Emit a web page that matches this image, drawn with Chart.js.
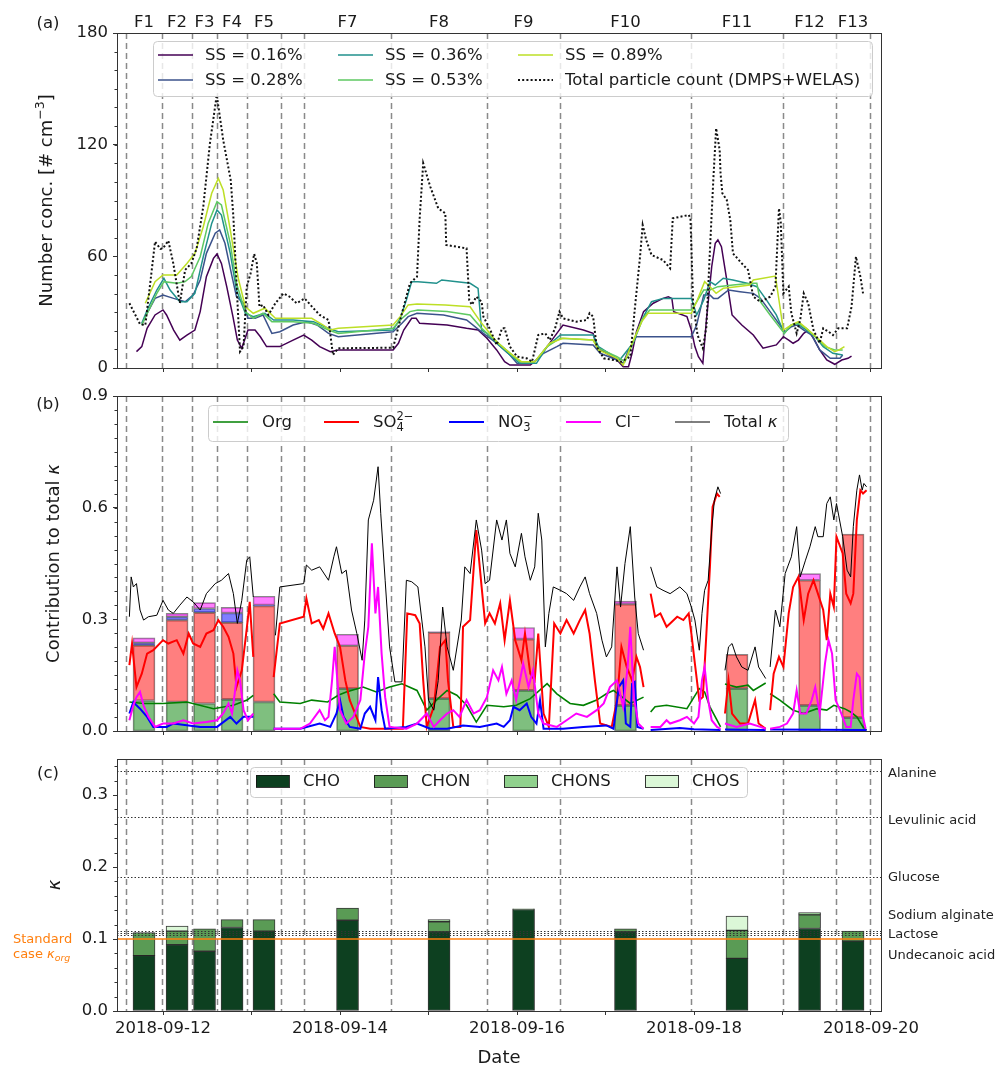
<!DOCTYPE html>
<html>
<head>
<meta charset="utf-8">
<script src="https://cdn.jsdelivr.net/npm/chart.js@4.4.0/dist/chart.umd.min.js"></script>
<style>
html, body { margin: 0; padding: 0; background: #fff; }
#wrap { position: relative; width: 997px; height: 1067px; }
#wrap canvas { position: absolute; left: 0; top: 0; }
</style>
</head>
<body>
<div id="wrap">
<canvas id="ca" width="997" height="1067"></canvas>
<canvas id="cb" width="997" height="1067"></canvas>
<canvas id="cc" width="997" height="1067"></canvas>
</div>
<script>
// time in days since 2018-09-12 00:00 UTC
var xLimits = [-0.52, 8.113];
var dayTicks = [0, 1, 2, 3, 4, 5, 6, 7, 8];
var flightEdges = [-0.418, -0.011, 0.328, 0.610, 0.949, 1.333, 1.593, 2.576, 3.661, 4.486, 5.966, 7.006, 7.605, 7.989];
var flightNames = ['F1', 'F2', 'F3', 'F4', 'F5', '', 'F7', 'F8', 'F9', 'F10', 'F11', 'F12', 'F13'];
var barTimes = [-0.215, 0.159, 0.469, 0.78, 1.141, 2.085, 3.119, 4.074, 5.226, 6.486, 7.306, 7.797];

// (a) number concentrations [# cm-3]
var totalCount = [[-0.38,34.8],[-0.26,23.6],[-0.2,23],[-0.09,67.9],[-0.03,64],[0.0,64.3],[0.06,68.4],[0.116,56.2],[0.19,34.9],[0.25,52.7],[0.32,56.2],[0.38,64.3],[0.455,86.7],[0.53,120.7],[0.607,146.7],[0.68,122.5],[0.765,101],[0.795,81.3],[0.84,36.5],[0.87,8.8],[0.91,11.5],[0.946,43.7],[0.99,50.9],[1.03,61.3],[1.06,56.2],[1.09,32.9],[1.13,33.9],[1.19,28.5],[1.27,34.8],[1.36,40.1],[1.43,38.3],[1.51,34.8],[1.60,37.4],[1.70,32.1],[1.77,28.5],[1.87,25.8],[1.92,7.0],[1.98,10.6],[2.6,10.9],[2.68,25.8],[2.79,45.5],[2.87,49.1],[2.90,80.4],[2.94,110],[3.02,97.4],[3.11,85.8],[3.19,83.1],[3.20,66.1],[3.43,64.3],[3.46,36.5],[3.49,33.9],[3.54,38.3],[3.60,35.6],[3.62,27.6],[3.69,21.3],[3.77,12.4],[3.83,21.3],[3.86,21.3],[3.92,11.5],[4.0,6.1],[4.11,5.2],[4.17,3.4],[4.24,17.7],[4.32,18.6],[4.37,15.0],[4.43,21.3],[4.48,30.3],[4.52,26.7],[4.67,24.9],[4.79,25.8],[4.82,29.4],[4.86,27.6],[4.90,11.5],[4.98,5.2],[5.09,4.3],[5.18,3.4],[5.28,6.1],[5.33,31.2],[5.39,59.8],[5.42,76.8],[5.46,68.8],[5.52,60.7],[5.65,58.0],[5.73,53.6],[5.76,80.4],[5.94,82.2],[5.96,80.4],[5.99,34.8],[6.04,17.7],[6.10,10.6],[6.14,22.2],[6.18,63.4],[6.22,102.8],[6.25,128.8],[6.29,117.1],[6.30,104.6],[6.32,93.9],[6.37,90.3],[6.41,79.5],[6.44,61.6],[6.54,56.2],[6.61,52.7],[6.67,38.3],[6.75,35.6],[6.86,38.3],[6.92,43.7],[6.96,85.8],[6.98,78.6],[7.01,40.1],[7.07,43.7],[7.10,29.4],[7.16,18.6],[7.20,25.8],[7.24,40.1],[7.29,34.8],[7.35,20.4],[7.42,13.3],[7.46,21.3],[7.52,19.5],[7.57,17.7],[7.63,21.3],[7.73,21.3],[7.78,32.9],[7.83,59.8],[7.88,49.1],[7.91,40.1]];
var ss016 = [[-0.30,8.8],[-0.24,11.5],[-0.18,21.3],[-0.09,28.5],[0.0,31.2],[0.04,28.5],[0.12,20.4],[0.19,15.0],[0.27,17.7],[0.36,20.4],[0.42,30.3],[0.49,49.1],[0.57,58.9],[0.61,61.3],[0.66,56.2],[0.72,43.7],[0.79,27.6],[0.84,15.0],[0.89,10.6],[0.96,20.4],[1.04,20.4],[1.10,16.8],[1.17,11.5],[1.32,11.5],[1.47,15.0],[1.59,17.7],[1.68,15.0],[1.77,11.5],[1.89,8.8],[1.98,9.7],[2.60,9.7],[2.66,13.3],[2.72,20.4],[2.81,26.7],[2.86,26.7],[2.90,24.0],[3.21,23.1],[3.43,21.3],[3.56,20.4],[3.66,16.0],[3.77,9.7],[3.86,3.4],[3.92,1.6],[4.15,1.6],[4.22,4.3],[4.34,11.5],[4.45,18.6],[4.52,23.1],[4.75,20.4],[4.86,18.6],[4.90,11.5],[5.01,7.9],[5.13,4.3],[5.20,0.7],[5.26,0.7],[5.30,7.9],[5.35,19.5],[5.43,30.3],[5.54,34.8],[5.65,37.4],[5.71,38.3],[5.75,37.4],[5.77,30.3],[5.92,27.6],[5.97,20.4],[6.01,11.5],[6.05,6.1],[6.10,2.5],[6.14,25.8],[6.20,54.4],[6.24,67.0],[6.27,68.8],[6.31,65.2],[6.37,47.3],[6.43,28.5],[6.54,23.1],[6.67,17.7],[6.78,10.6],[6.93,12.4],[7.01,16.8],[7.07,15.0],[7.12,13.3],[7.18,15.0],[7.24,18.6],[7.29,20.4],[7.35,16.0],[7.42,9.7],[7.50,4.3],[7.59,2.0],[7.67,4.3],[7.74,5.2],[7.78,6.4]];
var ss028 = [[-0.24,23.1],[-0.18,29.4],[-0.09,37.4],[0.0,39.2],[0.12,37.4],[0.25,35.6],[0.34,39.2],[0.42,47.3],[0.49,61.6],[0.59,72.4],[0.64,74.2],[0.70,67.0],[0.78,49.1],[0.83,38.3],[0.91,34.8],[0.96,26.7],[1.04,26.7],[1.13,28.5],[1.23,18.6],[1.32,19.5],[1.47,23.1],[1.62,24.9],[1.74,23.1],[1.87,18.6],[1.98,16.8],[2.60,19.5],[2.70,24.0],[2.77,27.6],[2.87,29.4],[3.17,28.5],[3.43,25.8],[3.62,18.6],[3.77,13.3],[3.92,7.0],[4.0,2.5],[4.18,2.5],[4.30,7.9],[4.45,11.5],[4.52,13.3],[4.86,12.4],[4.94,7.9],[5.13,4.3],[5.20,2.5],[5.26,9.7],[5.35,16.8],[5.97,16.8],[6.03,23.1],[6.11,39.2],[6.18,39.2],[6.22,37.4],[6.27,37.4],[6.39,41.9],[6.52,41.0],[6.67,40.1],[6.75,37.4],[6.86,30.3],[6.97,23.1],[7.03,19.5],[7.10,22.2],[7.16,23.1],[7.24,20.4],[7.33,17.7],[7.42,9.7],[7.54,5.2],[7.65,5.2],[7.68,7.0]];
var ss036 = [[-0.24,24.0],[-0.17,32.1],[-0.07,41.9],[0.01,48.2],[0.08,41.9],[0.19,35.6],[0.27,35.6],[0.36,40.1],[0.455,59.8],[0.55,77.7],[0.61,84.9],[0.66,82.2],[0.76,61.6],[0.83,41.9],[0.93,29.4],[1.02,27.6],[1.15,29.4],[1.25,25.8],[1.47,25.8],[1.70,24.9],[1.87,21.3],[1.98,19.5],[2.60,20.4],[2.68,26.7],[2.75,36.5],[2.81,46.4],[2.88,46.4],[3.09,45.5],[3.15,47.3],[3.47,45.5],[3.56,42.8],[3.60,20.4],[3.66,18.6],[3.77,13.3],[3.92,7.0],[4.03,2.5],[4.22,2.5],[4.34,11.5],[4.49,17.7],[4.86,17.7],[4.92,11.5],[5.01,8.8],[5.16,4.3],[5.31,13.3],[5.43,27.6],[5.52,35.6],[5.65,37.4],[5.97,37.4],[6.03,28.5],[6.11,36.5],[6.18,46.4],[6.24,44.6],[6.33,48.2],[6.44,47.3],[6.60,45.5],[6.71,43.7],[6.82,36.5],[6.93,28.5],[7.02,18.6],[7.10,23.1],[7.16,24.0],[7.27,20.4],[7.37,16.8],[7.46,11.5],[7.57,7.9],[7.68,7.0]];
var ss053 = [[-0.24,23.1],[-0.17,30.3],[-0.07,40.1],[0.01,46.4],[0.155,45.5],[0.25,46.4],[0.32,49.1],[0.42,59.8],[0.51,77.7],[0.61,89.4],[0.66,87.6],[0.76,67.0],[0.83,45.5],[0.93,30.3],[1.02,26.7],[1.13,29.4],[1.23,24.9],[1.47,24.9],[1.70,24.0],[1.87,20.4],[1.98,18.6],[2.60,21.3],[2.70,26.7],[2.79,30.3],[2.88,31.2],[3.21,30.3],[3.47,28.5],[3.60,21.3],[3.77,14.1],[3.92,8.0],[4.03,3.4],[4.20,3.4],[4.34,11.5],[4.49,16.0],[4.86,15.0],[4.92,10.6],[5.13,6.1],[5.22,3.4],[5.30,12.4],[5.41,25.8],[5.50,31.2],[5.97,31.2],[6.03,35.6],[6.11,41.9],[6.18,41.9],[6.27,43.7],[6.44,44.6],[6.65,45.5],[6.71,45.5],[6.75,35.6],[6.86,28.5],[7.02,18.6],[7.10,23.1],[7.18,24.0],[7.27,21.3],[7.37,16.8],[7.48,11.5],[7.59,9.7],[7.68,9.7]];
var ss089 = [[-0.20,34.8],[-0.09,46.4],[0.0,50.0],[0.155,50.0],[0.27,56.2],[0.36,61.6],[0.455,75.9],[0.55,93.9],[0.625,101.9],[0.68,95.6],[0.76,74.2],[0.85,48.2],[0.93,32.9],[1.02,29.4],[1.15,32.1],[1.27,26.7],[1.47,26.7],[1.68,26.7],[1.81,23.1],[1.89,20.4],[1.98,21.3],[2.60,23.1],[2.68,27.6],[2.77,33.9],[2.87,34.4],[3.19,33.9],[3.47,32.9],[3.60,24.0],[3.77,14.1],[3.92,8.0],[4.05,3.4],[4.20,3.4],[4.37,13.3],[4.52,16.0],[4.86,15.0],[4.92,9.7],[5.13,5.2],[5.20,1.6],[5.30,13.3],[5.41,24.9],[5.48,29.4],[5.97,29.4],[6.03,35.6],[6.12,46.4],[6.18,43.7],[6.25,40.1],[6.33,42.8],[6.48,43.7],[6.63,44.6],[6.67,47.3],[6.92,49.4],[7.01,20.4],[7.10,23.1],[7.18,24.9],[7.27,21.3],[7.38,16.8],[7.50,11.5],[7.59,8.8],[7.64,9.7],[7.70,11.5]];

// (b) contributions to total kappa (null = gap)
var totalKappa = [[-0.38,0.307],[-0.36,0.414],[-0.335,0.387],[-0.30,0.396],[-0.26,0.325],[-0.22,0.298],[-0.165,0.307],[-0.07,0.311],[0.0,0.351],[0.06,0.325],[0.116,0.316],[0.19,0.338],[0.27,0.36],[0.34,0.347],[0.42,0.325],[0.49,0.369],[0.59,0.396],[0.66,0.405],[0.74,0.423],[0.795,0.369],[0.84,0.289],[0.89,0.351],[0.946,0.459],[0.98,0.468],[1.02,0.36],[1.1,null],[1.27,0.257],[1.32,0.387],[1.59,0.396],[1.62,0.446],[1.68,0.432],[1.77,0.441],[1.87,0.405],[1.93,0.468],[1.96,0.495],[2.02,0.423],[2.07,0.432],[2.13,0.325],[2.19,0.262],[2.25,0.19],[2.28,0.298],[2.32,0.567],[2.38,0.62],[2.43,0.71],[2.46,0.585],[2.51,0.405],[2.56,0.226],[2.62,0.132],[2.70,0.132],[2.75,0.405],[2.81,0.401],[2.88,0.387],[2.96,0.226],[3.0,0.083],[3.06,0.056],[3.11,0.136],[3.16,0.333],[3.21,0.226],[3.28,0.163],[3.37,0.298],[3.41,0.441],[3.47,0.423],[3.54,0.567],[3.60,0.486],[3.64,0.396],[3.69,0.405],[3.77,0.567],[3.83,0.513],[3.88,0.567],[3.92,0.477],[3.98,0.441],[4.05,0.531],[4.09,0.468],[4.15,0.405],[4.20,0.441],[4.24,0.585],[4.28,0.513],[4.32,0.226],[4.36,0.316],[4.41,0.387],[4.49,0.378],[4.56,0.369],[4.64,0.351],[4.71,0.387],[4.77,0.414],[4.82,0.369],[4.90,0.316],[4.96,0.244],[5.01,0.199],[5.07,0.226],[5.13,0.441],[5.17,0.333],[5.22,0.45],[5.28,0.549],[5.33,0.36],[5.37,0.262],[5.43,0.217],[5.47,null],[5.51,0.441],[5.58,0.387],[5.65,0.378],[5.73,0.369],[5.84,0.387],[5.92,0.369],[5.97,0.333],[6.01,0.298],[6.06,0.217],[6.09,0.316],[6.12,0.378],[6.16,0.405],[6.20,0.54],[6.23,0.62],[6.27,0.656],[6.30,0.638],[6.32,null],[6.35,0.163],[6.39,0.226],[6.43,0.235],[6.48,0.199],[6.54,0.172],[6.61,0.163],[6.69,0.226],[6.73,0.172],[6.81,0.141],[6.83,null],[6.86,0.172],[6.92,0.325],[6.97,0.28],[7.03,0.423],[7.10,0.468],[7.16,0.549],[7.20,0.414],[7.26,0.459],[7.31,0.495],[7.37,0.549],[7.40,0.522],[7.46,0.522],[7.50,0.611],[7.54,0.629],[7.58,0.567],[7.61,0.611],[7.68,0.522],[7.73,0.432],[7.77,0.414],[7.80,0.549],[7.84,0.647],[7.87,0.688],[7.90,0.647],[7.92,0.665],[7.95,0.656]];
var so4 = [[-0.38,0.177],[-0.35,0.235],[-0.335,0.199],[-0.30,0.118],[-0.24,0.154],[-0.18,0.208],[-0.11,0.217],[0.0,0.244],[0.06,0.235],[0.155,0.244],[0.23,0.208],[0.29,0.262],[0.34,0.235],[0.42,0.226],[0.49,0.262],[0.57,0.271],[0.625,0.298],[0.68,0.28],[0.74,0.253],[0.795,0.208],[0.83,0.118],[0.89,0.163],[0.94,0.262],[0.98,0.347],[1.02,0.199],[1.1,null],[1.25,0.145],[1.32,0.289],[1.59,0.307],[1.62,0.356],[1.68,0.289],[1.76,0.298],[1.81,0.275],[1.87,0.316],[1.94,0.262],[2.0,0.226],[2.06,0.136],[2.11,0.083],[2.17,0.047],[2.23,0.011],[2.34,0.006],[2.71,0.006],[2.76,0.316],[2.85,0.311],[2.90,0.289],[2.94,0.136],[2.98,0.011],[3.06,0.065],[3.13,0.226],[3.19,0.244],[3.22,0.136],[3.28,0.011],[3.36,0.011],[3.39,0.28],[3.47,0.298],[3.54,0.54],[3.60,0.387],[3.64,0.289],[3.69,0.316],[3.75,0.289],[3.81,0.343],[3.86,0.244],[3.92,0.351],[3.98,0.244],[4.05,0.19],[4.09,0.262],[4.15,0.154],[4.20,0.136],[4.24,0.262],[4.30,0.047],[4.36,0.011],[4.42,0.289],[4.49,0.262],[4.56,0.298],[4.64,0.262],[4.71,0.298],[4.77,0.325],[4.82,0.262],[4.88,0.136],[4.94,0.02],[5.07,0.011],[5.13,0.083],[5.18,0.226],[5.24,0.172],[5.30,0.136],[5.35,0.199],[5.39,0.172],[5.43,0.118],[5.47,null],[5.51,0.369],[5.56,0.307],[5.62,0.316],[5.69,0.28],[5.73,0.289],[5.81,0.307],[5.88,0.298],[5.94,0.316],[5.97,0.262],[6.01,0.181],[6.06,0.083],[6.10,0.091],[6.14,0.262],[6.18,0.441],[6.21,0.602],[6.26,0.638],[6.29,0.629],[6.32,null],[6.35,0.047],[6.39,0.136],[6.43,0.047],[6.52,0.02],[6.61,0.02],[6.69,0.083],[6.73,0.02],[6.81,0.006],[6.83,null],[6.86,0.056],[6.90,0.154],[6.96,0.199],[7.01,0.172],[7.07,0.316],[7.12,0.387],[7.18,0.414],[7.24,0.298],[7.29,0.369],[7.35,0.405],[7.40,0.369],[7.46,0.325],[7.50,0.244],[7.54,0.369],[7.58,0.333],[7.61,0.522],[7.68,0.477],[7.72,0.369],[7.77,0.343],[7.80,0.369],[7.84,0.567],[7.88,0.647],[7.91,0.638],[7.95,0.647]];
var org = [[-0.38,0.078],[-0.22,0.074],[0.0,0.074],[0.27,0.078],[0.57,0.06],[0.795,0.069],[0.95,0.083],[1.02,0.096],[1.1,null],[1.25,0.1],[1.32,0.078],[1.55,0.074],[1.68,0.083],[1.86,0.078],[1.98,0.096],[2.07,0.105],[2.26,0.118],[2.41,0.105],[2.56,0.118],[2.70,0.127],[2.87,0.109],[2.98,0.056],[3.09,0.083],[3.21,0.109],[3.32,0.096],[3.43,0.069],[3.54,0.024],[3.66,0.069],[3.85,0.065],[3.99,0.069],[4.15,0.087],[4.34,0.127],[4.45,0.1],[4.60,0.074],[4.75,0.069],[4.90,0.083],[5.01,0.1],[5.09,0.109],[5.28,0.074],[5.43,0.091],[5.47,null],[5.51,0.051],[5.56,0.065],[5.69,0.069],[5.92,0.06],[6.0,0.091],[6.06,0.114],[6.12,0.105],[6.18,0.065],[6.26,0.029],[6.30,0.011],[6.32,null],[6.35,0.126],[6.48,0.118],[6.61,0.123],[6.67,0.109],[6.81,0.129],[6.83,null],[6.86,0.1],[6.97,0.083],[7.12,0.056],[7.24,0.047],[7.39,0.06],[7.50,0.056],[7.58,0.069],[7.70,0.06],[7.77,0.051],[7.84,0.038],[7.91,0.011],[7.95,0.002]];
var no3 = [[-0.38,0.047],[-0.335,0.078],[-0.30,0.069],[-0.26,0.06],[-0.18,0.038],[-0.11,0.011],[0.04,0.011],[0.116,0.02],[0.42,0.011],[0.61,0.011],[0.76,0.038],[0.83,0.02],[0.91,0.038],[1.02,0.038],[1.1,null],[1.25,0.006],[1.55,0.006],[1.77,0.02],[1.89,0.011],[1.96,0.047],[2.0,0.083],[2.04,0.038],[2.11,0.011],[2.23,0.006],[2.28,0.047],[2.34,0.065],[2.40,0.029],[2.43,0.145],[2.47,0.056],[2.51,0.006],[2.75,0.011],[2.87,0.02],[3.02,0.006],[3.21,0.006],[3.39,0.015],[3.58,0.011],[3.77,0.02],[3.85,0.011],[3.92,0.029],[3.96,0.065],[4.03,0.056],[4.11,0.074],[4.16,0.038],[4.22,0.02],[4.26,0.083],[4.30,0.006],[4.52,0.006],[4.75,0.011],[5.01,0.015],[5.09,0.006],[5.15,0.118],[5.20,0.136],[5.23,0.02],[5.28,0.011],[5.30,0.127],[5.33,0.132],[5.36,0.011],[5.43,0.006],[5.47,null],[5.51,0.003],[5.84,0.008],[6.0,0.005],[6.30,0.003],[6.32,null],[6.35,0.004],[6.81,0.003],[6.83,null],[6.86,0.004],[7.95,0.003]];
var cl = [[-0.38,0.029],[-0.335,0.069],[-0.30,0.091],[-0.26,0.105],[-0.22,0.069],[-0.165,0.038],[-0.09,0.011],[0.0,0.02],[0.116,0.02],[0.23,0.029],[0.34,0.02],[0.49,0.024],[0.61,0.029],[0.68,0.047],[0.74,0.074],[0.78,0.047],[0.81,0.1],[0.84,0.163],[0.87,0.136],[0.91,0.056],[0.96,0.029],[1.02,0.047],[1.1,null],[1.25,0.006],[1.55,0.006],[1.66,0.02],[1.77,0.056],[1.83,0.029],[1.87,0.038],[1.91,0.136],[1.94,0.226],[1.97,0.136],[2.0,0.056],[2.07,0.02],[2.15,0.038],[2.23,0.083],[2.28,0.208],[2.32,0.28],[2.36,0.504],[2.40,0.316],[2.43,0.387],[2.47,0.208],[2.51,0.091],[2.56,0.011],[2.75,0.006],[2.87,0.02],[2.98,0.047],[3.06,0.011],[3.13,0.029],[3.21,0.047],[3.28,0.056],[3.35,0.038],[3.43,0.083],[3.51,0.047],[3.58,0.056],[3.66,0.091],[3.73,0.163],[3.79,0.136],[3.83,0.172],[3.88,0.1],[3.94,0.136],[3.99,0.083],[4.07,0.181],[4.13,0.118],[4.18,0.163],[4.24,0.047],[4.30,0.02],[4.45,0.011],[4.56,0.029],[4.67,0.047],[4.79,0.038],[4.90,0.056],[4.98,0.074],[5.05,0.118],[5.13,0.136],[5.20,0.065],[5.25,0.172],[5.28,0.28],[5.32,0.091],[5.37,0.02],[5.43,0.006],[5.47,null],[5.51,0.011],[5.62,0.011],[5.69,0.029],[5.73,0.02],[5.84,0.029],[5.92,0.038],[6.0,0.02],[6.05,0.038],[6.09,0.136],[6.12,0.172],[6.16,0.083],[6.20,0.029],[6.26,0.011],[6.30,0.006],[6.32,null],[6.35,0.02],[6.48,0.011],[6.63,0.02],[6.75,0.011],[6.81,0.006],[6.83,null],[6.86,0.006],[6.97,0.011],[7.05,0.02],[7.12,0.047],[7.16,0.109],[7.20,0.047],[7.27,0.047],[7.33,0.083],[7.37,0.118],[7.42,0.047],[7.48,0.181],[7.52,0.244],[7.56,0.208],[7.60,0.083],[7.65,0.056],[7.72,0.011],[7.77,0.011],[7.80,0.083],[7.84,0.154],[7.87,0.145],[7.90,0.047],[7.94,0.006]];

// (b) flight-mean contributions (one value per bar in barTimes)
var orgBar = [0.082, 0.078, 0.074, 0.085, 0.078, 0.114, 0.087, 0.109, 0.069, 0.114, 0.069, 0.036];
var so4Bar = [0.148, 0.220, 0.244, 0.206, 0.258, 0.115, 0.178, 0.138, 0.272, 0.092, 0.336, 0.493];
var no3Bar = [0.007, 0.009, 0.011, 0.026, 0.002, 0, 0, 0, 0, 0, 0, 0];
var clBar  = [0.013, 0.009, 0.016, 0.015, 0.024, 0.031, 0.002, 0.031, 0.008, 0, 0.018, 0];

// (c) organic kappa per compound class
var choK   = [0.077, 0.092, 0.083, 0.116, 0.111, 0.126, 0.110, 0.141, 0.110, 0.073, 0.1146, 0.097];
var chonK  = [0.032, 0.019, 0.031, 0.011, 0.016, 0.017, 0.014, 0.001, 0.004, 0.039, 0.019, 0.014];
var chonsK = [0, 0, 0, 0, 0, 0, 0.003, 0, 0, 0, 0.003, 0];
var chosK  = [0, 0.007, 0, 0, 0, 0, 0, 0, 0, 0.020, 0, 0];
var refNames = ['Alanine', 'Levulinic acid', 'Glucose', 'Sodium alginate', 'Lactose', 'Undecanoic acid'];
var refKappa = [0.333, 0.27, 0.186, 0.111, 0.108, 0.105];
var refLabelAt = [0.329, 0.265, 0.185, 0.132, 0.1055, 0.0775];
var standardKappa = 0.1;

var W = 997, H = 1067;
var FONT = '"DejaVu Sans"';
var TXT = '#1a1a1a';
var ssColors = ['#440154', '#3b528b', '#21918c', '#5ec962', '#bddf26'];
var ssLabels = ['SS = 0.16%', 'SS = 0.28%', 'SS = 0.36%', 'SS = 0.53%', 'SS = 0.89%'];
var greens = ['#0d4020', '#5a9b55', '#90d18d', '#dbf7d7'];

function pts(arr) { return arr.map(function(p) { return {x: p[0], y: p[1]}; }); }
function barPts(vals) { return barTimes.map(function(t, i) { return {x: t, y: vals[i] ? vals[i] : null}; }); }
function fnt(size, it) { return (it ? 'italic ' : '') + size + 'px ' + FONT; }

// text with sub/superscripts
function partWidth(ctx, p, size) {
  if (typeof p === 'string') { ctx.font = fnt(size); return ctx.measureText(p).width; }
  if (p.stack) { ctx.font = fnt(size * 0.7); return Math.max(ctx.measureText(p.stack[0]).width, ctx.measureText(p.stack[1]).width); }
  ctx.font = fnt(size * (p.s || 1), p.it); return ctx.measureText(p.t).width;
}
function richWidth(ctx, parts, size) {
  var w = 0; parts.forEach(function(p) { w += partWidth(ctx, p, size); }); return w;
}
function drawRich(ctx, x, y, parts, size) {
  var cx = x;
  parts.forEach(function(p) {
    var w = partWidth(ctx, p, size);
    if (typeof p === 'string') ctx.fillText(p, cx, y);
    else if (p.stack) { ctx.fillText(p.stack[0], cx, y - size * 0.36); ctx.fillText(p.stack[1], cx, y + size * 0.3); }
    else ctx.fillText(p.t, cx, y + (p.dy || 0) * size);
    cx += w;
  });
}
function drawRotated(ctx, cx, cy, parts, size) {
  ctx.save();
  ctx.translate(cx, cy); ctx.rotate(-Math.PI / 2);
  ctx.fillStyle = TXT; ctx.textAlign = 'left'; ctx.textBaseline = 'middle';
  var w = richWidth(ctx, parts, size);
  drawRich(ctx, -w / 2, 0, parts, size);
  ctx.restore();
}
function legendBox(ctx, x0, y0, x1, y1) {
  ctx.save();
  ctx.fillStyle = 'rgba(255,255,255,0.8)'; ctx.strokeStyle = '#cccccc'; ctx.lineWidth = 1;
  ctx.beginPath();
  if (ctx.roundRect) ctx.roundRect(x0 + 0.5, y0 + 0.5, x1 - x0, y1 - y0, 4); else ctx.rect(x0 + 0.5, y0 + 0.5, x1 - x0, y1 - y0);
  ctx.fill(); ctx.stroke();
  ctx.restore();
}
function legendLine(ctx, x, y, color, lw, dash) {
  ctx.save(); ctx.strokeStyle = color; ctx.lineWidth = lw; ctx.setLineDash(dash || []);
  ctx.beginPath(); ctx.moveTo(x, y); ctx.lineTo(x + 35, y); ctx.stroke(); ctx.restore();
}

function flightLines(chart) {
  var ctx = chart.ctx, a = chart.chartArea, xs = chart.scales.x;
  ctx.save();
  ctx.strokeStyle = 'rgba(125,125,125,0.9)'; ctx.lineWidth = 1.5; ctx.setLineDash([6, 4]);
  flightEdges.forEach(function(v) {
    var px = Math.round(xs.getPixelForValue(v)) + 0.5;
    ctx.beginPath(); ctx.moveTo(px, a.top); ctx.lineTo(px, a.bottom); ctx.stroke();
  });
  ctx.restore();
}
function frameAndMinor(chart, step, max) {
  var ctx = chart.ctx, a = chart.chartArea, ys = chart.scales.y;
  ctx.save();
  ctx.strokeStyle = '#333'; ctx.lineWidth = 1;
  ctx.strokeRect(a.left + 0.5, a.top + 0.5, a.right - a.left, a.bottom - a.top);
  for (var i = 0; i * step <= max + 1e-9; i++) {
    var py = Math.round(ys.getPixelForValue(i * step)) + 0.5;
    ctx.beginPath(); ctx.moveTo(a.left - 2.5, py); ctx.lineTo(a.left, py); ctx.stroke();
  }
  ctx.restore();
}
function panelLabel(ctx, txt, y) {
  ctx.save(); ctx.fillStyle = TXT; ctx.font = fnt(16.5); ctx.textAlign = 'center'; ctx.textBaseline = 'middle';
  ctx.fillText(txt, 48, y); ctx.restore();
}

function xAxis(showLabels, xh) {
  var day0 = Date.UTC(2018, 8, 12);
  return {
    type: 'linear', min: xLimits[0], max: xLimits[1], offset: false, stacked: true,
    border: {display: false},
    grid: {display: true, offset: false, drawOnChartArea: false, drawTicks: true, tickLength: 4, tickColor: '#333', tickWidth: 1},
    afterBuildTicks: function(s) { s.ticks = dayTicks.map(function(v) { return {value: v}; }); },
    afterFit: function(s) { s.height = xh; },
    ticks: {
      autoSkip: false, maxRotation: 0, padding: 4, color: TXT, font: {family: 'DejaVu Sans', size: 16.5},
      callback: function(v) {
        if (!showLabels || v % 2 !== 0) return '';
        return new Date(day0 + v * 86400000).toISOString().slice(0, 10);
      }
    }
  };
}
function yAxis(min, max, ticks, digits) {
  return {
    type: 'linear', min: min, max: max,
    border: {display: false},
    grid: {display: true, drawOnChartArea: false, drawTicks: true, tickLength: 4, tickColor: '#333', tickWidth: 1},
    afterBuildTicks: function(s) { s.ticks = ticks.map(function(v) { return {value: v}; }); },
    afterFit: function(s) { s.width = 117; },
    ticks: {padding: 5, color: TXT, font: {family: 'DejaVu Sans', size: 16.5},
      callback: function(v) { return v.toFixed(digits); }}
  };
}
function layoutFor(top, bottom, xh) {
  return {padding: {left: 0, right: W - 881, top: top, bottom: H - bottom - xh}};
}

// ---------- (a) ----------
var dsA = ssLabels.map(function(lab, i) {
  return {label: lab, data: pts([ss016, ss028, ss036, ss053, ss089][i]), borderColor: ssColors[i],
    borderWidth: 1.5, pointRadius: 0, tension: 0, order: 6 - i};
});
dsA.push({label: 'Total particle count (DMPS+WELAS)', data: pts(totalCount), borderColor: '#111',
  borderWidth: 2, borderDash: [2, 2.2], pointRadius: 0, tension: 0, order: 0});

new Chart(document.getElementById('ca'), {
  type: 'line',
  data: {datasets: dsA},
  options: {
    responsive: false, animation: false, devicePixelRatio: 1,
    layout: layoutFor(33, 368, 10),
    plugins: {legend: {display: false}, tooltip: {enabled: false}},
    scales: {x: xAxis(false, 10), y: yAxis(0, 180, [0, 60, 120, 180], 0)}
  },
  plugins: [{
    id: 'decoA',
    beforeDatasetsDraw: flightLines,
    afterDraw: function(chart) {
      var ctx = chart.ctx, xs = chart.scales.x, a = chart.chartArea;
      frameAndMinor(chart, 10, 180);
      // flight names
      ctx.save(); ctx.fillStyle = TXT; ctx.font = fnt(16.5); ctx.textAlign = 'center'; ctx.textBaseline = 'middle';
      flightNames.forEach(function(n, i) {
        if (n) ctx.fillText(n, (xs.getPixelForValue(flightEdges[i]) + xs.getPixelForValue(flightEdges[i + 1])) / 2, 23);
      });
      ctx.restore();
      panelLabel(ctx, '(a)', 24);
      drawRotated(ctx, 47, (a.top + a.bottom) / 2, ['Number conc. [# cm', {t: '\u22123', s: 0.7, dy: -0.35}, ']'], 18);
      // legend, 3 columns
      legendBox(ctx, 153, 41, 872, 96);
      var colX = [158, 338, 518], rowY = [55, 80];
      ctx.save(); ctx.fillStyle = TXT; ctx.textAlign = 'left'; ctx.textBaseline = 'middle'; ctx.font = fnt(16.5);
      dsA.forEach(function(d, k) {
        var x = colX[Math.floor(k / 2)], y = rowY[k % 2];
        legendLine(ctx, x, y, d.borderColor, d.borderWidth, d.borderDash);
        ctx.fillText(d.label, x + 47, y + 1);
      });
      ctx.restore();
    }
  }]
});

// ---------- (b) ----------
function barSet(label, vals, color) {
  return {type: 'bar', label: label, data: barPts(vals), backgroundColor: color, borderColor: 'rgba(40,40,40,0.55)',
    borderWidth: 1, borderSkipped: false, barThickness: 22, yAxisID: 'yb', order: 10, stack: 'mean'};
}
function lineSet(label, arr, color, lw, order) {
  return {label: label, data: pts(arr), borderColor: color, borderWidth: lw, pointRadius: 0, tension: 0, spanGaps: false, order: order};
}
var yb = {type: 'linear', display: false, min: 0, max: 0.9, stacked: true};
var scalesB = {x: xAxis(false, 10), y: yAxis(0, 0.9, [0, 0.3, 0.6, 0.9], 1), yb: yb};

new Chart(document.getElementById('cb'), {
  type: 'line',
  data: {datasets: [
    barSet('Org mean', orgBar, 'rgba(0,128,0,0.5)'),
    barSet('SO4 mean', so4Bar, 'rgba(255,0,0,0.5)'),
    barSet('NO3 mean', no3Bar, 'rgba(0,0,255,0.5)'),
    barSet('Cl mean', clBar, 'rgba(255,0,255,0.5)'),
    lineSet('Org', org, '#008000', 1.6, 5),
    lineSet('SO4', so4, '#ff0000', 2, 4),
    lineSet('NO3', no3, '#0000ff', 2, 3),
    lineSet('Cl', cl, '#ff00ff', 2, 2),
    lineSet('Total kappa', totalKappa, '#000000', 1, 1)
  ]},
  options: {
    responsive: false, animation: false, devicePixelRatio: 1,
    layout: layoutFor(396, 731, 10),
    plugins: {legend: {display: false}, tooltip: {enabled: false}},
    scales: scalesB
  },
  plugins: [{
    id: 'decoB',
    beforeDatasetsDraw: flightLines,
    afterDraw: function(chart) {
      var ctx = chart.ctx, a = chart.chartArea;
      frameAndMinor(chart, 0.0375, 0.9);
      panelLabel(ctx, '(b)', 405);
      drawRotated(ctx, 54, (a.top + a.bottom) / 2, ['Contribution to total ', {t: '\u03ba', it: true}], 18);
      legendBox(ctx, 208, 405, 788, 441);
      var y = 422;
      var items = [
        {x: 213, c: '#008000', lw: 1.6, parts: ['Org']},
        {x: 324, c: '#ff0000', lw: 2, parts: ['SO', {stack: ['2\u2212', '4']}]},
        {x: 449, c: '#0000ff', lw: 2, parts: ['NO', {stack: ['\u2212', '3']}]},
        {x: 566, c: '#ff00ff', lw: 2, parts: ['Cl', {t: '\u2212', s: 0.7, dy: -0.36}]},
        {x: 675, c: '#000000', lw: 1, parts: ['Total ', {t: '\u03ba', it: true}]}
      ];
      ctx.save(); ctx.fillStyle = TXT; ctx.textAlign = 'left'; ctx.textBaseline = 'middle';
      items.forEach(function(it) {
        legendLine(ctx, it.x, y, it.c, it.lw);
        drawRich(ctx, it.x + 49, y + 1, it.parts, 16.5);
      });
      ctx.restore();
    }
  }]
});

// ---------- (c) ----------
function kSet(label, vals, color) {
  return {label: label, data: barPts(vals), backgroundColor: color, borderColor: 'rgba(20,20,20,0.85)',
    borderWidth: 1, borderSkipped: false, barThickness: 22};
}
var yC = yAxis(0, 0.35, [0, 0.1, 0.2, 0.3], 1);
yC.stacked = true;

new Chart(document.getElementById('cc'), {
  type: 'bar',
  data: {datasets: [
    kSet('CHO', choK, greens[0]),
    kSet('CHON', chonK, greens[1]),
    kSet('CHONS', chonsK, greens[2]),
    kSet('CHOS', chosK, greens[3])
  ]},
  options: {
    responsive: false, animation: false, devicePixelRatio: 1,
    layout: layoutFor(759, 1011, 40),
    plugins: {legend: {display: false}, tooltip: {enabled: false}},
    scales: {x: xAxis(true, 40), y: yC}
  },
  plugins: [{
    id: 'decoC',
    beforeDatasetsDraw: flightLines,
    afterDatasetsDraw: function(chart) {
      var ctx = chart.ctx, a = chart.chartArea, ys = chart.scales.y;
      ctx.save();
      ctx.strokeStyle = '#333'; ctx.lineWidth = 1.2; ctx.setLineDash([1.5, 2]);
      refKappa.forEach(function(k) {
        var py = Math.round(ys.getPixelForValue(k)) + 0.5;
        ctx.beginPath(); ctx.moveTo(a.left, py); ctx.lineTo(a.right, py); ctx.stroke();
      });
      ctx.setLineDash([]); ctx.strokeStyle = '#ff7f0e'; ctx.lineWidth = 1.6;
      var po = ys.getPixelForValue(standardKappa);
      ctx.beginPath(); ctx.moveTo(a.left, po); ctx.lineTo(a.right, po); ctx.stroke();
      ctx.restore();
    },
    afterDraw: function(chart) {
      var ctx = chart.ctx, a = chart.chartArea, ys = chart.scales.y;
      frameAndMinor(chart, 0.02, 0.35);
      panelLabel(ctx, '(c)', 774);
      drawRotated(ctx, 55, (a.top + a.bottom) / 2, [{t: '\u03ba', it: true}], 18);
      // x title
      ctx.save(); ctx.fillStyle = TXT; ctx.font = fnt(18); ctx.textAlign = 'center'; ctx.textBaseline = 'middle';
      ctx.fillText('Date', (a.left + a.right) / 2, 1058);
      ctx.restore();
      // compound labels on the right
      ctx.save(); ctx.fillStyle = '#222'; ctx.font = fnt(13); ctx.textAlign = 'left'; ctx.textBaseline = 'middle';
      refNames.forEach(function(n, i) { ctx.fillText(n, a.right + 7, ys.getPixelForValue(refLabelAt[i])); });
      ctx.restore();
      // standard case label
      var po = ys.getPixelForValue(standardKappa);
      ctx.save(); ctx.fillStyle = '#ff7f0e'; ctx.textAlign = 'left'; ctx.textBaseline = 'middle';
      ctx.font = fnt(13); ctx.fillText('Standard', 13, po + 1);
      drawRich(ctx, 13, po + 16, ['case ', {t: '\u03ba', it: true}, {t: 'org', it: true, s: 0.72, dy: 0.25}], 13);
      ctx.restore();
      // legend
      legendBox(ctx, 250, 767, 747, 797);
      var names = ['CHO', 'CHON', 'CHONS', 'CHOS'], px = [256, 374, 504, 645];
      ctx.save(); ctx.textAlign = 'left'; ctx.textBaseline = 'middle'; ctx.font = fnt(16.5);
      names.forEach(function(n, i) {
        ctx.fillStyle = greens[i]; ctx.fillRect(px[i], 775, 33, 12);
        ctx.strokeStyle = 'rgba(20,20,20,0.85)'; ctx.lineWidth = 1; ctx.strokeRect(px[i] + 0.5, 775.5, 33, 12);
        ctx.fillStyle = TXT; ctx.fillText(n, px[i] + 47, 782);
      });
      ctx.restore();
    }
  }]
});
</script>
</body>
</html>
